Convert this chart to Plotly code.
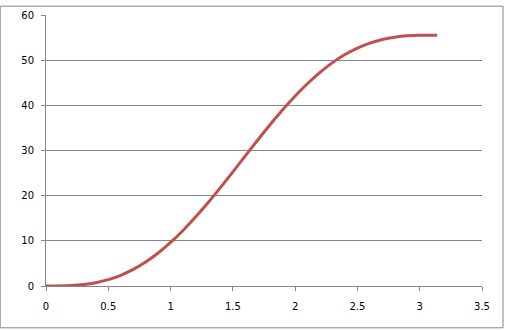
import plotly.graph_objects as go

x_vals = [0, 0.1, 0.2, 0.3, 0.4, 0.5, 0.6, 0.7, 0.8, 0.9, 1.0, 1.1, 1.2, 1.3, 1.4, 1.5,
          1.6, 1.7, 1.8, 1.9, 2.0, 2.1, 2.2, 2.3, 2.4, 2.5, 2.6, 2.7, 2.8, 2.9, 3.0, 3.1, 3.14]
y_vals = [0, 0.01, 0.09, 0.31, 0.73, 1.4, 2.37, 3.67, 5.31, 7.3, 9.64, 12.3, 15.25, 18.43,
          21.79, 25.27, 28.8, 32.32, 35.74, 39.0, 42.05, 44.83, 47.31, 49.45, 51.24, 52.68,
          53.78, 54.57, 55.08, 55.38, 55.51, 55.54, 55.54]

W, H = 507, 330
L, R, T, B = 46.3, 24.7, 9.5, 43.7
pw, ph = W - L - R, H - T - B

fig = go.Figure(go.Scatter(x=x_vals, y=y_vals, mode="lines",
                           line=dict(color="#C0504D", width=3, shape="spline"),
                           hoverinfo="skip"))

grey = "#868686"
fig.update_layout(
    width=W, height=H,
    margin=dict(l=L, r=R, t=T, b=B, pad=0),
    paper_bgcolor="white", plot_bgcolor="white",
    showlegend=False,
    font=dict(family="DejaVu Sans", size=10, color="black"),
    xaxis=dict(range=[0, 3.5], dtick=0.5, tick0=0, showgrid=False, zeroline=False,
               showline=True, linecolor=grey, linewidth=1,
               ticks="outside", ticklen=4, tickcolor=grey, tickwidth=1,
               ticklabelstandoff=7, fixedrange=True),
    yaxis=dict(range=[0, 60], dtick=10, tick0=0, showgrid=True, gridcolor=grey, gridwidth=1,
               zeroline=False, showline=True, linecolor=grey, linewidth=1,
               ticks="outside", ticklen=4, tickcolor=grey, tickwidth=1,
               ticklabelstandoff=5, fixedrange=True),
    shapes=[dict(type="rect", xref="paper", yref="paper",
                 x0=(0.5 - L) / pw, x1=(503.3 - L) / pw,
                 y0=(H - B - 329.0) / ph, y1=(H - B - 0.5) / ph,
                 line=dict(color=grey, width=1), fillcolor="rgba(0,0,0,0)", layer="below")],
)

fig.write_html("out.html")
